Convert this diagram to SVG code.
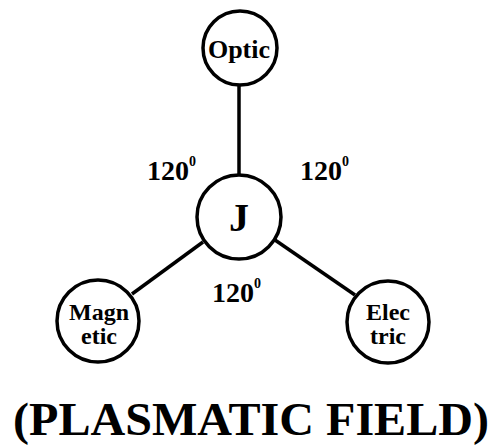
<svg xmlns="http://www.w3.org/2000/svg" width="491" height="446" viewBox="0 0 491 446">
<style>
.n{fill:#fff;stroke:#000;stroke-width:3.5}
.c{stroke:#000;stroke-width:3.5;fill:none}
text{font-family:"Liberation Serif","Times New Roman",serif;font-weight:bold;fill:#000}
.lb{font-size:26px;text-anchor:middle}
.lb2{font-size:24px;text-anchor:middle}
.ang{font-size:28px}
.sup{font-size:14px}
</style>
<rect width="491" height="446" fill="#fff"/>
<g id="connectors">
<line class="c" x1="239" y1="85" x2="239" y2="175"/>
<line class="c" x1="203" y1="242" x2="132" y2="294"/>
<line class="c" x1="275" y1="240" x2="355" y2="295"/>
</g>
<g id="optic"><circle class="n" cx="240" cy="48" r="37"/><text class="lb" x="239" y="58">Optic</text></g>
<g id="j"><circle class="n" cx="239" cy="217" r="42"/><text x="239" y="231" font-size="40" text-anchor="middle">J</text></g>
<g id="magnetic"><circle class="n" cx="98" cy="321" r="41"/><text class="lb2" x="99" y="320">Magn</text><text class="lb2" x="99" y="344">etic</text></g>
<g id="electric"><circle class="n" cx="388" cy="322" r="41"/><text class="lb2" x="388" y="320">Elec</text><text class="lb2" x="388" y="344">tric</text></g>
<g id="angles">
<text class="ang" x="147" y="180">120<tspan class="sup" dy="-14">0</tspan></text>
<text class="ang" x="300" y="180">120<tspan class="sup" dy="-14">0</tspan></text>
<text class="ang" x="212" y="302">120<tspan class="sup" dy="-14">0</tspan></text>
</g>
<text x="13" y="435" font-size="47" textLength="476" lengthAdjust="spacingAndGlyphs">(PLASMATIC FIELD)</text>
</svg>
